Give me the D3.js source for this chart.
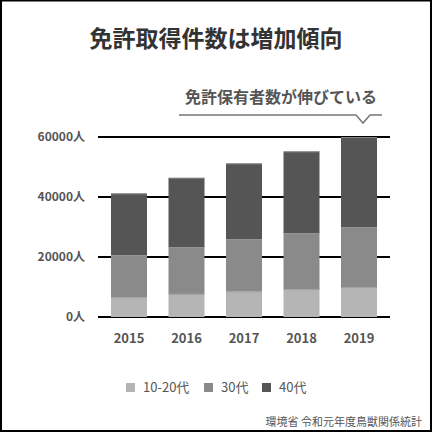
<!DOCTYPE html>
<html><head><meta charset="utf-8">
<script src="https://cdn.jsdelivr.net/npm/d3@7"></script>
<style>body{margin:0;background:#fff}svg{display:block}text{font-family:"Noto Sans CJK JP","Noto Sans",sans-serif}</style>
</head><body><svg id="c" width="432" height="432"></svg>
<script>
const years = ["2015","2016","2017","2018","2019"];
const seriesNames = ["10-20代","30代","40代"];
const age1020 = [6600, 7700, 8500, 9300, 10000];
const age30 = [14000, 15600, 17500, 18700, 20000];
const age40 = [20600, 23100, 25200, 27200, 30000];
const yTicks = [0, 20000, 40000, 60000];
const colors = ["#b5b5b5", "#8a8a8a", "#555555"];

const svg = d3.select("#c");
svg.append("rect").attr("x",1).attr("y",0.5).attr("width",430).attr("height",430.5)
  .attr("fill","#fff").attr("stroke","#000").attr("stroke-width",2);

svg.append("text").attr("x",216).attr("y",47).attr("text-anchor","middle")
  .attr("font-size",23).attr("font-weight","bold").attr("fill","#333").text("免許取得件数は増加傾向");

const x = d3.scaleBand().domain(years).range([98,390]).paddingInner(0.374).paddingOuter(0.226);
const y = d3.scaleLinear().domain([0,60000]).range([317,137]);

// gridlines
const yAxis = d3.axisLeft(y).tickValues(yTicks).tickSize(0).tickFormat(d => d + "人");
const ga = svg.append("g").attr("transform","translate(98,0)").call(yAxis);
ga.select(".domain").remove();
ga.selectAll("text").attr("x",-13).attr("font-size",12).attr("font-weight","bold").attr("fill","#555")
  .attr("font-family","Liberation Sans, Arial, sans-serif");
ga.selectAll("text").each(function(){ /* keep */ });
svg.append("g").selectAll("line").data(yTicks).join("line")
  .attr("x1",98).attr("x2",390).attr("y1",d=>y(d)).attr("y2",d=>y(d))
  .attr("stroke","#000").attr("stroke-width",2);

// stacked bars
const table = years.map((yr,i)=>({year:yr, "10-20代":age1020[i], "30代":age30[i], "40代":age40[i]}));
const stacked = d3.stack().keys(seriesNames)(table);
svg.append("g").selectAll("g").data(stacked).join("g").attr("fill",(d,i)=>colors[i])
  .selectAll("rect").data(d=>d).join("rect")
  .attr("x",d=>x(d.data.year)).attr("width",x.bandwidth())
  .attr("y",d=>y(d[1])).attr("height",d=>y(d[0])-y(d[1]));
// light top edges
svg.append("g").selectAll("g").data(stacked).join("g")
  .selectAll("line").data(d=>d).join("line")
  .attr("x1",d=>x(d.data.year)).attr("x2",d=>x(d.data.year)+x.bandwidth())
  .attr("y1",d=>y(d[1])+0.5).attr("y2",d=>y(d[1])+0.5)
  .attr("stroke","#999").attr("stroke-width",1).attr("opacity",0.7);

// x axis labels
const xAxis = d3.axisBottom(x).tickSize(0);
const gx = svg.append("g").attr("transform","translate(0,330)").call(xAxis);
gx.select(".domain").remove();
gx.selectAll("text").attr("dy","0.71em").attr("y",4).attr("font-size",13).attr("font-weight","bold").attr("fill","#555")
  .attr("font-family","Liberation Sans, Arial, sans-serif");

// callout
svg.append("text").attr("x",281).attr("y",103).attr("text-anchor","middle")
  .attr("font-size",16).attr("font-weight","bold").attr("fill","#555").text("免許保有者数が伸びている");
const cx = x("2019") + x.bandwidth()/2 + 4;
svg.append("path")
  .attr("d",`M179,115 H${cx-7} L${cx},123 L${cx+7},115 H382`)
  .attr("fill","none").attr("stroke","#777").attr("stroke-width",1.5);

// legend
const legX = [126, 204, 262];
const lg = svg.append("g").selectAll("g").data(seriesNames).join("g")
  .attr("transform",(d,i)=>`translate(${legX[i]},383)`);
lg.append("rect").attr("width",9).attr("height",9).attr("fill",(d,i)=>colors[i]);
lg.append("text").attr("x",17).attr("y",9).attr("font-size",13).attr("fill","#555")
  .attr("font-family","Liberation Sans, Arial, sans-serif").text(d=>d);

svg.append("text").attr("x",422).attr("y",426).attr("text-anchor","end")
  .attr("font-size",11).attr("fill","#555").text("環境省 令和元年度鳥獣関係統計");
</script></body></html>
